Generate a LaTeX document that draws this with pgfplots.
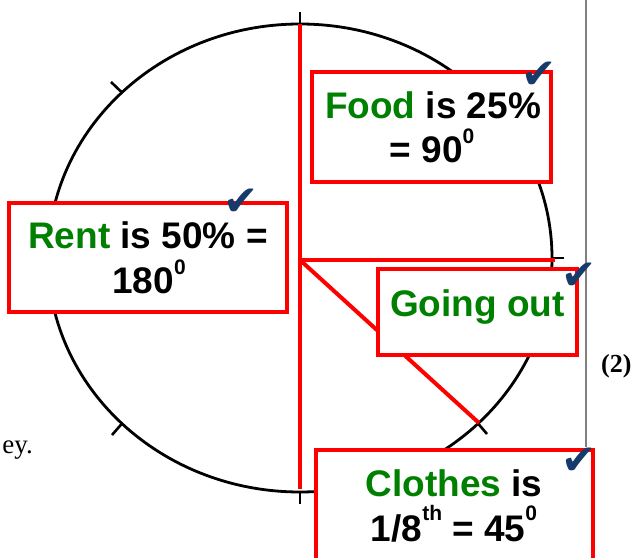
\documentclass[border=0pt]{standalone}
\usepackage{pgfplots}
\pgfplotsset{compat=1.18}
\usepackage{fontspec}
\setmainfont{Liberation Sans}
\newfontfamily\serif{Liberation Serif}
\newfontfamily\sym{DejaVu Sans}
\definecolor{chk}{RGB}{22,58,105}
\definecolor{dgreen}{RGB}{0,128,0}
\newcommand\lab[1]{\fontsize{37bp}{44bp}\selectfont\bfseries #1}
\newcommand\supr[2][19bp]{\raisebox{#1}{\fontsize{21bp}{21bp}\selectfont #2}}
\begin{document}
\begin{tikzpicture}
\begin{axis}[name=ax, hide axis, scale only axis, width=634bp, height=558bp,
  xmin=0, xmax=634, ymin=0, ymax=558, y dir=reverse, clip=false]
% circle of the pie
\draw[line width=2.8bp] (axis cs:300,258) ellipse [x radius=252, y radius=234];
% 45-degree ticks on the rim
\draw[line width=2.6bp] (axis cs:300,24) -- (axis cs:300,12);
\draw[line width=2.6bp] (axis cs:300,492) -- (axis cs:300,504);
\draw[line width=2.6bp] (axis cs:552,258) -- (axis cs:564,258);
\draw[line width=2.6bp] (axis cs:48,258) -- (axis cs:36,258);
\draw[line width=2.6bp] (axis cs:478,423.5) -- (axis cs:487,434);
\draw[line width=2.6bp] (axis cs:122,423.5) -- (axis cs:112,435);
\draw[line width=2.6bp] (axis cs:122,92.5) -- (axis cs:111,82);
\draw[line width=2.6bp] (axis cs:478,92.5) -- (axis cs:489,82);
% slice boundaries (Rent 180, Food 90, Going out 45, Clothes 45)
\addplot[red, line width=4bp] coordinates {(300,24) (300,489)};
\addplot[red, line width=4bp] coordinates {(300,260) (555,260)};
\addplot[red, line width=4bp] coordinates {(300,260) (479,423)};
% gray margin line
\draw[gray, line width=1.5bp] (axis cs:586,0) -- (axis cs:586,447);
% boxes
\draw[red, line width=3.5bp, fill=white] (axis cs:312,72) rectangle (axis cs:551,182);
\draw[red, line width=3.5bp, fill=white] (axis cs:9,203) rectangle (axis cs:287,312);
\draw[red, line width=3.5bp, fill=white] (axis cs:378,269) rectangle (axis cs:577,355);
\draw[red, line width=3.5bp, fill=white] (axis cs:316,450) rectangle (axis cs:593,575);
% texts
\node[anchor=base, inner sep=0pt] at (axis cs:433,118) {\lab{\textcolor{dgreen}{Food} is 25\%}};
\node[anchor=base, inner sep=0pt] at (axis cs:432,162) {\lab{= 90\supr{0}}};
\node[anchor=base, inner sep=0pt] at (axis cs:148,248) {\lab{\textcolor{dgreen}{Rent} is 50\% =}};
\node[anchor=base, inner sep=0pt] at (axis cs:149,293) {\lab{180\supr{0}}};
\node[anchor=base, inner sep=0pt] at (axis cs:477.5,316.5) {\lab{\textcolor{dgreen}{Going out}}};
\node[anchor=base, inner sep=0pt] at (axis cs:454,496) {\lab{\textcolor{dgreen}{Clothes} is}};
\node[anchor=base, inner sep=0pt] at (axis cs:454,541) {\lab{1/8\supr[21bp]{th} = 45\supr[21bp]{0}}};
% check marks
\node[text=chk, inner sep=0pt, font={\sym\fontsize{42bp}{42bp}\selectfont}] at (axis cs:539,75) {✔};
\node[text=chk, inner sep=0pt, font={\sym\fontsize{42bp}{42bp}\selectfont}] at (axis cs:241,202) {✔};
\node[text=chk, inner sep=0pt, font={\sym\fontsize{42bp}{42bp}\selectfont}] at (axis cs:579,276) {✔};
\node[text=chk, inner sep=0pt, font={\sym\fontsize{42bp}{42bp}\selectfont}] at (axis cs:579,461) {✔};
% stray page text
\node[anchor=base east, inner sep=0pt, font={\serif\fontsize{27bp}{30bp}\selectfont}] at (axis cs:33,453) {ey.};
\node[anchor=base west, inner sep=0pt, font={\serif\bfseries\fontsize{26bp}{30bp}\selectfont}] at (axis cs:601,372) {(2)};
\end{axis}
\pgfresetboundingbox
\useasboundingbox (ax.south west) rectangle (ax.north east);
\end{tikzpicture}
\end{document}
